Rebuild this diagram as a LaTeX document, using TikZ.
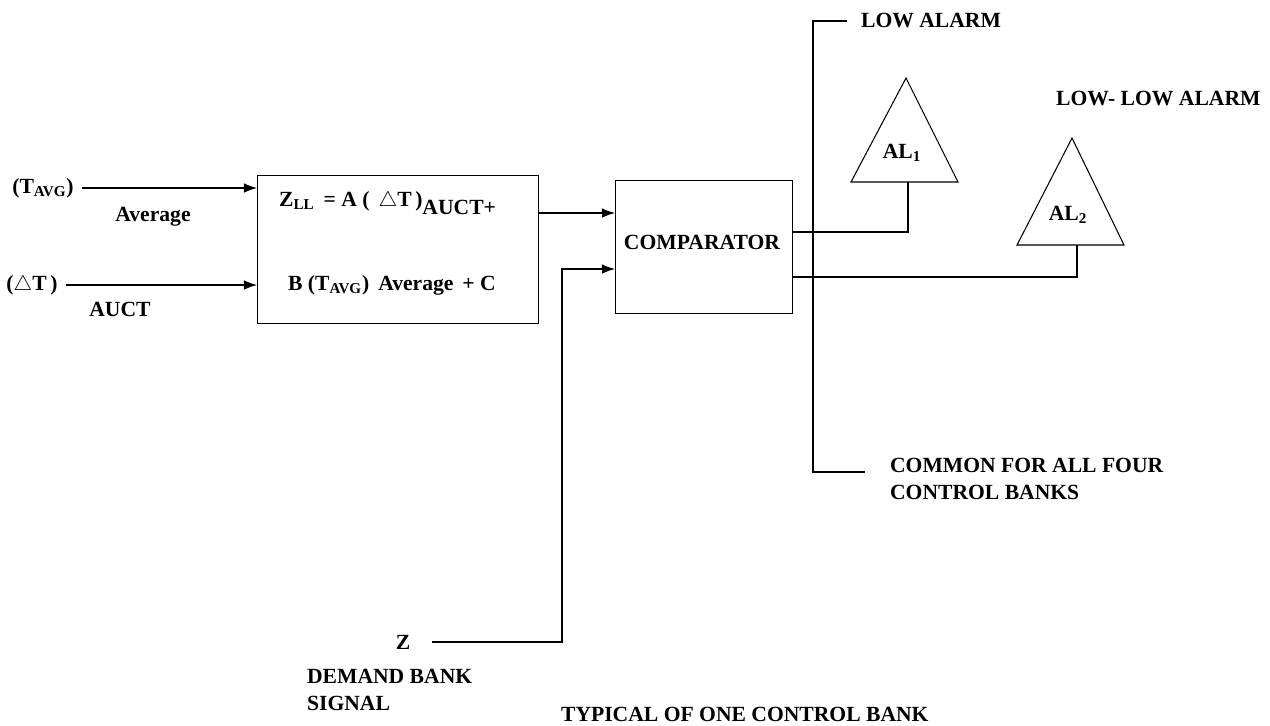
\documentclass[tikz,border=0pt]{standalone}
\usepackage{fontspec}
\setmainfont{Liberation Serif}
\usetikzlibrary{arrows.meta, positioning}

\begin{document}
\begin{tikzpicture}[x=0.02cm, y=-0.02cm, >={Latex[length=7.5pt,width=5.5pt]},
    font=\fontsize{12.3}{15}\selectfont\bfseries]
  % Styles
  \tikzstyle{blk} = [draw, line width=0.6pt, anchor=north west, inner sep=0pt]
  \tikzstyle{lbl} = [inner sep=1pt]
  \tikzstyle{sig} = [line width=0.6pt]

  \useasboundingbox (0,0) rectangle (1270,725);

  % Blocks
  \node[blk, minimum width=5.62cm, minimum height=2.96cm] (calc) at (257,175) {};
  \node[blk, minimum width=3.54cm, minimum height=2.66cm] (comp) at (615,180) {};
  \node[lbl] (compt) at (702,242) {COMPARATOR};

  % Equation inside the first block
  \node[lbl, anchor=west] (eqa) at (277,203)
    {Z\textsubscript{LL} \,= A (\, $\triangle$T\,)\raisebox{-5pt}{AUCT+}};
  \node[lbl, anchor=west] (eqb) at (286,285)
    {B (T\textsubscript{AVG})\, Average \,+ C};

  % Inputs
  \node[lbl] (tavg) at (43,188) {(T\textsubscript{AVG})};
  \node[lbl] (avg) at (153,217) {Average};
  \node[lbl] (dt) at (32,285) {($\triangle$T\,)};
  \node[lbl] (auct) at (120,309) {AUCT};
  \draw[sig, ->] (tavg.east) ++(6,0) -- (calc.west |- tavg);
  \draw[sig, ->] (dt.east) ++(6,0) -- (calc.west |- dt);

  % Block to comparator
  \coordinate (zll) at (539,213);
  \draw[sig, ->] (zll) -- (comp.west |- zll);

  % Demand bank signal
  \node[lbl] (z) at (403,642) {Z};
  \node[lbl, anchor=west, align=left] (dbs) at (305,690) {DEMAND BANK\\SIGNAL};
  \coordinate (zturn) at (562,269);
  \draw[sig, ->] (z.east) ++(20,0) -| (zturn) -- (comp.west |- zturn);

  % Alarms
  \coordinate (al1top) at (906,78);
  \coordinate (al1l) at (851,182);
  \coordinate (al1r) at (958,182);
  \coordinate (al1in) at (908,182);
  \draw[sig] (al1top) -- (al1l) -- (al1r) -- cycle;
  \node[lbl] (al1) at (902,153) {AL\textsubscript{1}};

  \coordinate (al2top) at (1072,138);
  \coordinate (al2l) at (1017,245);
  \coordinate (al2r) at (1124,245);
  \coordinate (al2in) at (1077,245);
  \draw[sig] (al2top) -- (al2l) -- (al2r) -- cycle;
  \node[lbl] (al2) at (1068,215) {AL\textsubscript{2}};
  \node[lbl, anchor=west] (llal) at (1054,98) {LOW- LOW ALARM};

  \draw[sig] (comp.east |- 0,232) -| (al1in);
  \draw[sig] (comp.east |- 0,277) -| (al2in);

  % Common bus
  \node[lbl, anchor=west] (lowal) at (859,21) {LOW ALARM};
  \node[lbl, anchor=west, align=left] (common) at (888,479)
    {COMMON FOR ALL FOUR\\CONTROL BANKS};
  \coordinate (bustop) at (813,21);
  \coordinate (busbot) at (813,472);
  \draw[sig] ([xshift=-7pt]lowal.west) -- (bustop) -- (busbot)
    -- ([xshift=-13pt]common.west |- busbot);

  % Caption
  \node[lbl, anchor=west] (typ) at (559,714) {TYPICAL OF ONE CONTROL BANK};
\end{tikzpicture}
\end{document}
